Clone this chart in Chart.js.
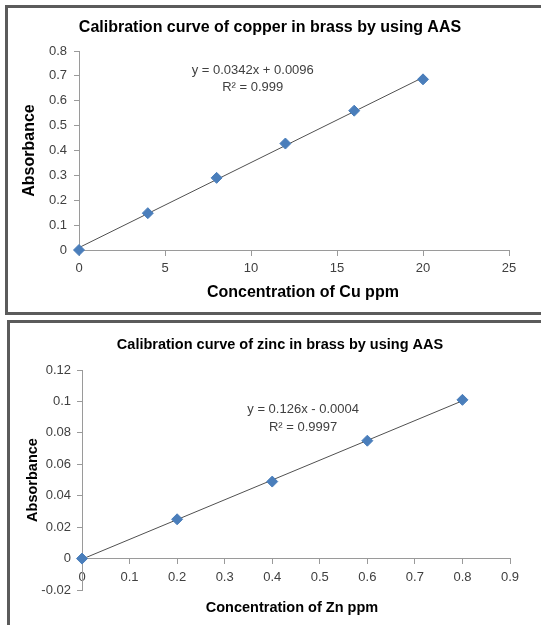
<!DOCTYPE html>
<html>
<head>
<meta charset="utf-8">
<script src="https://cdn.jsdelivr.net/npm/chart.js@4"></script>
<style>
  body { margin: 0; background: #fff; overflow: hidden; width: 541px; height: 625px; position: relative; }
  .box { position: absolute; border: 3px solid #5b5b5b; background: #fff; }
  #boxCu { left: 5px; top: 5px; width: 560px; height: 304px; }
  #boxZn { left: 7px; top: 320px; width: 560px; height: 400px; }
  canvas { display: block; }
</style>
</head>
<body>
<div class="box" id="boxCu"><canvas id="cuChart" width="533" height="304"></canvas></div>
<div class="box" id="boxZn"><canvas id="znChart" width="531" height="302"></canvas></div>
<script>
// copper standards
const cuConc = [0, 4, 8, 12, 16, 20];
const cuAbs = [0, 0.148, 0.29, 0.428, 0.56, 0.686];
const cuFitX = [0, 20];
const cuFitY = [0.0096, 0.6936];
const cuEquation = ['y = 0.0342x + 0.0096', 'R² = 0.999'];

// zinc standards
const znConc = [0, 0.2, 0.4, 0.6, 0.8];
const znAbs = [0, 0.025, 0.049, 0.075, 0.101];
const znFitX = [0, 0.8];
const znFitY = [-0.0004, 0.1004];
const znEquation = ['y = 0.126x - 0.0004', 'R² = 0.9997'];

const axisGray = '#9a9a9a';
const tickColor = '#404040';
const fontFam = '"Liberation Sans", Arial, sans-serif';
const nb = '\u00a0';

const toPoints = (xs, ys) => xs.map((x, i) => ({ x: x, y: ys[i] }));
const plainNum = v => String(+Number(v).toFixed(4));

// trendline equation text, placed in data coordinates
const equationLabel = {
  id: 'equationLabel',
  afterDatasetsDraw(chart, args, opts) {
    const { ctx, scales } = chart;
    ctx.save();
    ctx.font = '13px ' + fontFam;
    ctx.fillStyle = tickColor;
    ctx.textAlign = 'center';
    ctx.textBaseline = 'middle';
    opts.lines.forEach((txt, i) => {
      ctx.fillText(txt, scales.x.getPixelForValue(opts.x), scales.y.getPixelForValue(opts.y[i]));
    });
    ctx.restore();
  }
};

function makeChart(id, cfg) {
  return new Chart(document.getElementById(id), {
    type: 'scatter',
    data: {
      datasets: [
        {
          data: toPoints(cfg.xs, cfg.ys),
          pointStyle: 'rectRot',
          pointRadius: 5.5,
          backgroundColor: '#4a7ebb',
          borderColor: '#4a7ebb',
          showLine: false,
          clip: false
        },
        {
          data: toPoints(cfg.fitX, cfg.fitY),
          showLine: true,
          borderColor: '#505050',
          borderWidth: 1,
          pointRadius: 0,
          clip: false
        }
      ]
    },
    options: {
      responsive: false,
      animation: false,
      layout: { padding: { left: cfg.padLeft, right: cfg.padRight } },
      plugins: {
        legend: { display: false },
        tooltip: { enabled: false },
        title: {
          display: true,
          text: cfg.title,
          color: '#000',
          font: { family: fontFam, size: cfg.titleSize, weight: 'bold' },
          padding: cfg.titlePad
        },
        subtitle: {
          display: true,
          fullSize: false,
          position: 'bottom',
          text: cfg.xTitle,
          color: '#000',
          font: { family: fontFam, size: cfg.titleSize, weight: 'bold' },
          padding: cfg.xTitlePad
        },
        equationLabel: cfg.eq
      },
      scales: {
        x: {
          type: 'linear',
          position: { y: 0 },
          min: cfg.xMin, max: cfg.xMax,
          ticks: { stepSize: cfg.xStep, color: tickColor, padding: 6, font: { family: fontFam, size: 13 }, callback: plainNum },
          grid: { drawOnChartArea: false, tickLength: 5, color: axisGray },
          border: { color: axisGray },
          afterFit: s => { s.height = 0; }
        },
        y: {
          min: cfg.yMin, max: cfg.yMax,
          ticks: { stepSize: cfg.yStep, color: tickColor, padding: cfg.yTickPad, font: { family: fontFam, size: 13 }, callback: plainNum },
          grid: { drawOnChartArea: false, tickLength: 5, color: axisGray },
          border: { color: axisGray },
          title: {
            display: true,
            text: 'Absorbance',
            color: '#000',
            font: { family: fontFam, size: cfg.titleSize, weight: 'bold' },
            padding: { top: cfg.yTitleOff, bottom: 0 }
          },
          afterFit: s => { s.width = cfg.yWidth; }
        },
        // empty spacer on the right so the plot keeps its width
        yRight: {
          position: 'right',
          ticks: { display: false },
          grid: { display: false },
          border: { display: false },
          afterFit: s => { s.width = cfg.rightGap; }
        }
      }
    },
    plugins: [equationLabel]
  });
}

makeChart('cuChart', {
  xs: cuConc, ys: cuAbs, fitX: cuFitX, fitY: cuFitY,
  title: 'Calibration curve of copper in brass by using AAS',
  xTitle: nb + nb + nb + nb + 'Concentration of Cu ppm',
  titleSize: 16,
  titlePad: { top: 10.4, bottom: 13.4 },
  xTitlePad: { top: 33.4, bottom: 9.4 },
  padLeft: 0, padRight: 9, rightGap: 23,
  xMin: 0, xMax: 25, xStep: 5,
  yMin: 0, yMax: 0.8, yStep: 0.1,
  yWidth: 71, yTickPad: 7, yTitleOff: 12.4,
  eq: { lines: cuEquation, x: 10.1, y: [0.72, 0.655] }
});

makeChart('znChart', {
  xs: znConc, ys: znAbs, fitX: znFitX, fitY: znFitY,
  title: 'Calibration curve of zinc in brass by using AAS',
  xTitle: 'Concentration of Zn ppm' + nb + nb,
  titleSize: 14.5,
  titlePad: { top: 13.3, bottom: 16.3 },
  xTitlePad: { top: 9.3, bottom: 8.3 },
  padLeft: 9, padRight: 0, rightGap: 31,
  xMin: 0, xMax: 0.9, xStep: 0.1,
  yMin: -0.02, yMax: 0.12, yStep: 0.02,
  yWidth: 63, yTickPad: 6, yTitleOff: 5.3,
  eq: { lines: znEquation, x: 0.465, y: [0.0949, 0.0834] }
});
</script>
</body>
</html>
